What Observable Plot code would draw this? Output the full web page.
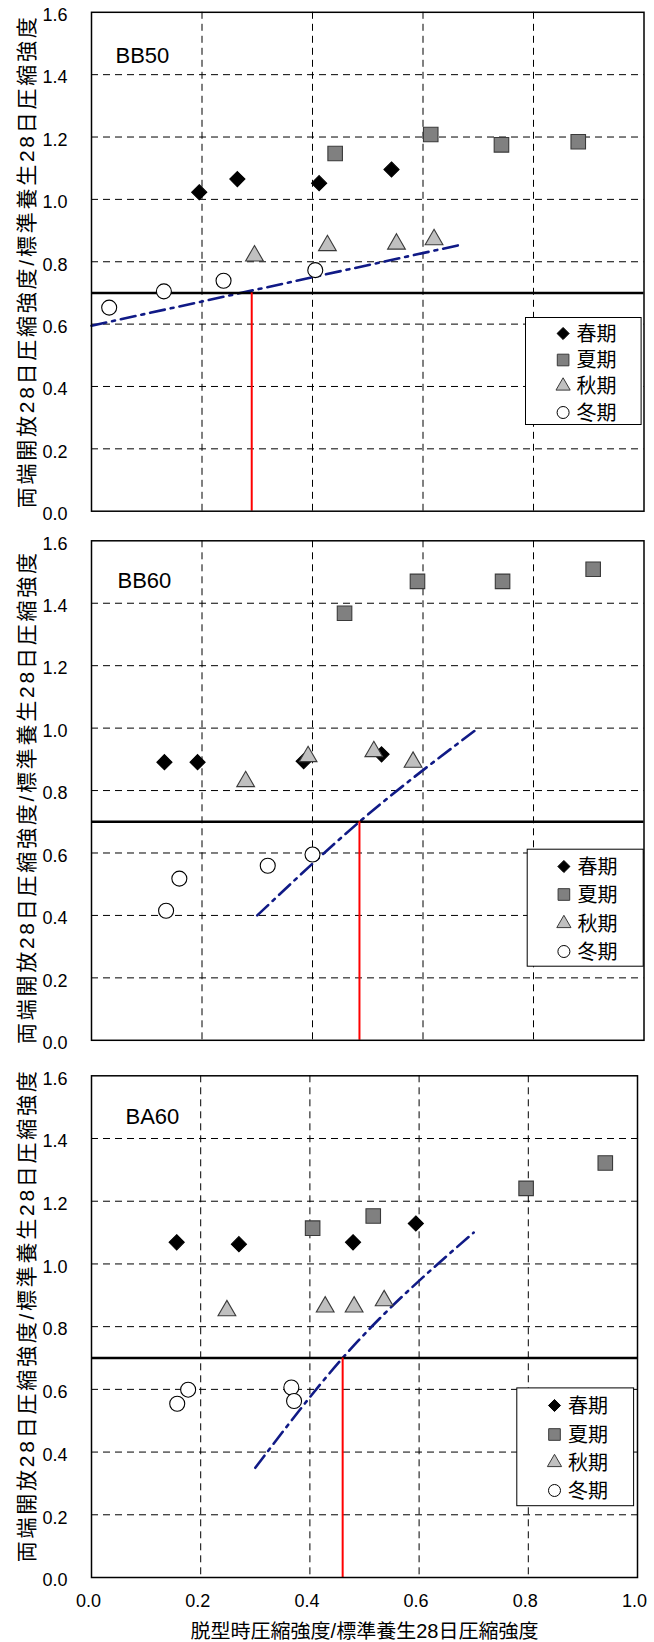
<!DOCTYPE html>
<html><head><meta charset="utf-8">
<script src="https://cdn.jsdelivr.net/npm/d3@7"></script>
<script src="https://cdn.jsdelivr.net/npm/@observablehq/plot@0.6"></script>
<style>
body{margin:0;background:#fff;}
#chart{width:654px;position:relative;}
#chart svg{display:block;}
</style></head><body><div id="chart"></div>
<script>
// ---- data ----
const seasons = ["春期", "夏期", "秋期", "冬期"];
const xTicks = [0, 0.2, 0.4, 0.6, 0.8, 1.0];
const yTicks = [0, 0.2, 0.4, 0.6, 0.8, 1.0, 1.2, 1.4, 1.6];
const xGrid = [0.2, 0.4, 0.6, 0.8];
const yGrid = [0.2, 0.4, 0.6, 0.8, 1.0, 1.2, 1.4];
const threshold = [0.7];
const yTitle = "両端開放28日圧縮強度/標準養生28日圧縮強度";
const xTitle = "脱型時圧縮強度/標準養生28日圧縮強度";

// BB50
const bb50Spring = [[0.195, 1.023], [0.264, 1.065], [0.412, 1.052], [0.543, 1.096]];
const bb50Summer = [[0.441, 1.147], [0.614, 1.208], [0.742, 1.175], [0.881, 1.185]];
const bb50Autumn = [[0.295, 0.819], [0.427, 0.852], [0.552, 0.857], [0.620, 0.871]];
const bb50Winter = [[0.032, 0.653], [0.131, 0.705], [0.239, 0.739], [0.405, 0.773]];
const bb50Trend = [[0, 0.595], [0.67, 0.855]];
const bb50Cross = [0.29];

// BB60
const bb60Spring = [[0.132, 0.891], [0.192, 0.891], [0.384, 0.894], [0.525, 0.916]];
const bb60Summer = [[0.458, 1.368], [0.590, 1.470], [0.744, 1.470], [0.908, 1.509]];
const bb60Autumn = [[0.279, 0.829], [0.392, 0.909], [0.511, 0.925], [0.582, 0.891]];
const bb60Winter = [[0.135, 0.415], [0.159, 0.518], [0.319, 0.559], [0.400, 0.595]];
const bb60Trend = [[0.30, 0.40], [0.485, 0.70], [0.70, 1.0]];
const bb60Cross = [0.485];

// BA60
const ba60Spring = [[0.156, 1.069], [0.270, 1.063], [0.479, 1.069], [0.594, 1.129]];
const ba60Summer = [[0.405, 1.114], [0.516, 1.153], [0.796, 1.241], [0.941, 1.322]];
const ba60Autumn = [[0.248, 0.851], [0.428, 0.863], [0.481, 0.863], [0.536, 0.883]];
const ba60Winter = [[0.157, 0.554], [0.177, 0.599], [0.366, 0.606], [0.371, 0.563]];
const ba60Trend = [[0.30, 0.35], [0.46, 0.70], [0.70, 1.10]];
const ba60Cross = [0.46];

// ---- styles ----
const symbolStyles = [
  {symbol: "diamond2", r: 6.8, fill: "black", stroke: "black"},
  {symbol: "square", r: 8.2, fill: "#808080", stroke: "#3a3a3a"},
  {symbol: "triangle", r: 6.6, fill: "#c0c0c0", stroke: "#3a3a3a"},
  {symbol: "circle", r: 7.5, fill: "white", stroke: "black"}
];
const font = "'Liberation Sans', Arial, 'Noto Sans CJK JP', sans-serif";

const panels = [
  {name: "BB50", series: [bb50Spring, bb50Summer, bb50Autumn, bb50Winter], trend: bb50Trend, cross: bb50Cross,
   top: 0, height: 526, mt: 11.8, mb: 15.3, mr: 10.5, showX: false,
   label: {dx: 24, dy: 51}, yTitleDy: 1,
   legend: {box: [525, 317, 640.6, 424], symX: 562.6, textX: 576, rows: [333, 359.5, 385.5, 412]}},
  {name: "BB60", series: [bb60Spring, bb60Summer, bb60Autumn, bb60Winter], trend: bb60Trend, cross: bb60Cross,
   top: 526, height: 531, mt: 14.3, mb: 17.2, mr: 10.5, showX: false,
   label: {dx: 26, dy: 47}, yTitleDy: 8,
   legend: {box: [526.7, 848.7, 642.7, 965.7], symX: 563.4, textX: 577, rows: [866, 894, 923, 951]}},
  {name: "BA60", series: [ba60Spring, ba60Summer, ba60Autumn, ba60Winter], trend: ba60Trend, cross: ba60Cross,
   top: 1057, height: 585, mt: 18.3, mb: 65, mr: 17, showX: true,
   label: {dx: 34, dy: 48.5}, yTitleDy: -10,
   legend: {box: [516.3, 1387.4, 633.1, 1505.2], symX: 554, textX: 567.6, rows: [1405, 1434, 1462, 1490]}}
];

const ml = 91;
const W = 654;
const container = document.getElementById("chart");

for (const p of panels) {
  const fTop = p.top + p.mt;                 // frame top in page coords
  const fBottom = p.top + p.height - p.mb;
  const fRight = W - p.mr;
  const L = p.legend;
  const marks = [
    Plot.ruleX(xGrid, {stroke: "black", strokeWidth: 1, strokeDasharray: "7,5"}),
    Plot.ruleY(yGrid, {stroke: "black", strokeWidth: 1, strokeDasharray: "7,5"}),
    Plot.line(p.trend, {x: d => d[0], y: d => d[1], curve: "monotone-x", stroke: "#101a86", strokeWidth: 2.6, strokeDasharray: "15,6,3,6"}),
    Plot.ruleY(threshold, {stroke: "black", strokeWidth: 2.5}),
    Plot.ruleX(p.cross, {y1: 0, y2: threshold[0], stroke: "#ff0000", strokeWidth: 2})
  ];
  p.series.forEach((s, i) => {
    const st = symbolStyles[i];
    marks.push(Plot.dot(s, {x: d => d[0], y: d => d[1], symbol: st.symbol, r: st.r, fill: st.fill, stroke: st.stroke, strokeWidth: 1.1}));
  });
  // legend box
  marks.push(Plot.frame({fill: "white", stroke: "black", strokeWidth: 1,
    insetLeft: L.box[0] - ml, insetTop: L.box[1] - fTop, insetRight: fRight - L.box[2], insetBottom: fBottom - L.box[3]}));
  seasons.forEach((s, i) => {
    const st = symbolStyles[i];
    marks.push(Plot.dot([s], {frameAnchor: "top-left", dx: L.symX - ml, dy: L.rows[i] - fTop,
      symbol: st.symbol, r: st.r * 0.8, fill: st.fill, stroke: st.stroke, strokeWidth: 1}));
    marks.push(Plot.text([s], {frameAnchor: "top-left", dx: L.textX - ml, dy: L.rows[i] - fTop + 1,
      text: d => d, textAnchor: "start", lineAnchor: "middle", fontSize: 20, fill: "black"}));
  });
  // panel name
  marks.push(Plot.text([p.name], {frameAnchor: "top-left", dx: p.label.dx, dy: p.label.dy, text: d => d,
    textAnchor: "start", lineAnchor: "bottom", fontSize: 22, fill: "black"}));
  // y axis + title
  marks.push(Plot.axisY(yTicks, {tickSize: 0, tickPadding: 24, tickFormat: d3.format(".1f"), fontSize: 18, dy: 3, label: null}));
  marks.push(Plot.text([yTitle], {frameAnchor: "left", dx: -64, dy: p.yTitleDy, rotate: -90, text: d => d,
    textAnchor: "middle", lineAnchor: "middle", fontSize: 21, fill: "black"}));
  if (p.showX) {
    marks.push(Plot.axisX(xTicks, {tickSize: 0, tickPadding: 17, tickFormat: d3.format(".1f"), fontSize: 18, dx: -3, label: null}));
    marks.push(Plot.text([xTitle], {frameAnchor: "bottom", dy: 54, text: d => d, textAnchor: "middle", lineAnchor: "middle", fontSize: 19.5, fill: "black"}));
  }
  marks.push(Plot.frame({stroke: "black", strokeWidth: 1.5}));

  const svg = Plot.plot({
    width: W, height: p.height,
    marginLeft: ml, marginRight: p.mr, marginTop: p.mt, marginBottom: p.mb,
    x: {domain: [0, 1], axis: null},
    y: {domain: [0, 1.6], axis: null},
    style: {fontFamily: font, fontSize: "18px", color: "black", background: "white", overflow: "visible"},
    marks
  });
  d3.select(svg).selectAll("text").filter(function() { return this.textContent === yTitle; })
    .attr("textLength", 491).attr("lengthAdjust", "spacing");
  d3.select(svg).selectAll("text").filter(function() { return this.textContent === xTitle; })
    .attr("textLength", 348).attr("lengthAdjust", "spacingAndGlyphs");
  container.appendChild(svg);
}
</script></body></html>
